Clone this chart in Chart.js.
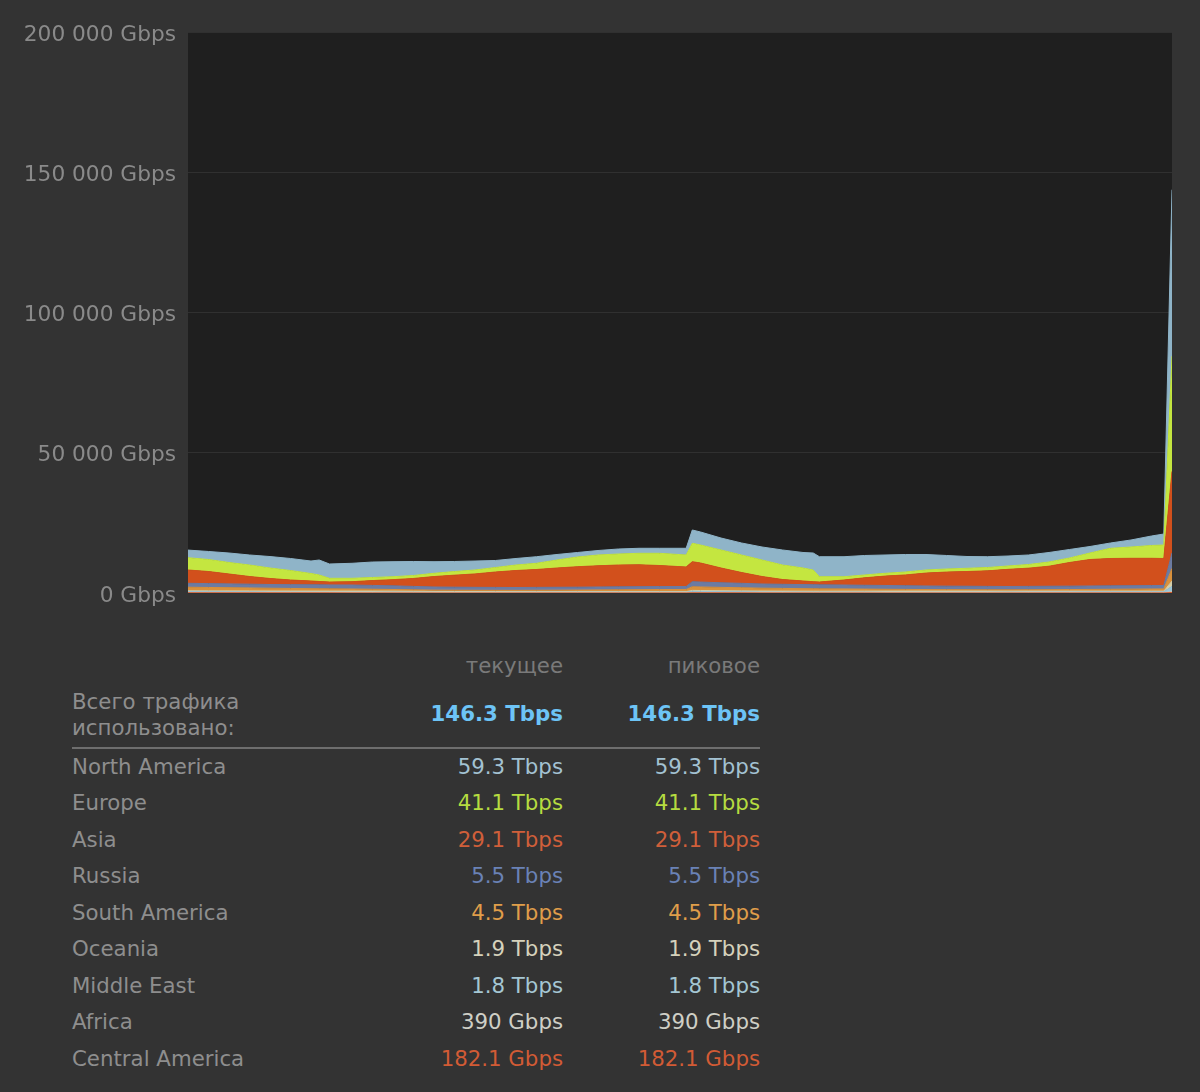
<!DOCTYPE html>
<html>
<head>
<meta charset="utf-8">
<script src="https://cdn.jsdelivr.net/npm/chart.js@4.4.1/dist/chart.umd.min.js"></script>
<style>
    body { margin: 0; background: #333333; width: 1200px; height: 1092px; overflow: hidden; font-family: "DejaVu Sans", sans-serif; }
    #wrap { position: absolute; left: 0; top: 0; width: 1200px; height: 620px; }
    .t { position: absolute; font-size: 21.3px; line-height: 26px; white-space: nowrap; }
    .r { text-align: right; width: 220px; }
</style>
</head>
<body>
<div id="wrap"><canvas id="trafficChart"></canvas></div>
<div id="stats"></div>
<script>
// time axis, hours over the 48h window
const hours = [0, 1, 2, 3, 4, 5, 6, 6.4, 6.9, 8, 9, 10, 11, 12, 13, 14, 15, 16, 17, 18, 19, 20, 21, 22, 23, 24.3, 24.6,
    25, 26, 27, 28, 29, 30, 30.5, 30.8, 32, 33, 34, 35, 36, 37, 38, 39, 40, 41, 42, 43, 44, 45, 46, 47, 47.6, 48];

// traffic per region, Gbps
const northAmerica = [2720, 2860, 3390, 3570, 4090, 4280, 4450, 5340, 5100, 5350, 5520, 5350, 4990, 4140, 3570, 3200, 2500, 2320, 2350, 1970, 1610, 1600, 1790, 1790, 1790, 2390, 4740,
    4640, 4270, 4280, 4640, 5350, 5530, 6060, 7130, 7130, 6950, 6530, 6240, 5530, 4810, 4200, 3850, 3560, 3390, 3390, 3030, 2320, 1890, 2500, 3390, 3920, 59300];
const europe = [4380, 4280, 4100, 4100, 3740, 3390, 2670, 2320, 1320, 1210, 1100, 1050, 1050, 1150, 1300, 1400, 1600, 1960, 2210, 2850, 3450, 3850, 3920, 4100, 4350, 4280, 6560,
    6410, 6420, 6240, 5880, 5170, 4630, 4170, 1890, 1180, 1000, 1000, 1050, 1100, 1100, 1150, 1200, 1200, 1300, 1500, 1610, 2320, 3640, 4030, 4560, 4810, 41100];
const asia = [4740, 4310, 3520, 2730, 2140, 1650, 1360, 1200, 1040, 1180, 1730, 2210, 2840, 3730, 4280, 4780, 5500, 6060, 6380, 6870, 7300, 7560, 7780, 7800, 7510, 6950, 7130,
    6800, 5260, 3860, 2670, 1710, 1280, 1080, 1020, 1780, 2660, 3340, 3850, 4600, 5010, 5250, 5530, 6110, 6500, 7140, 8420, 9440, 9750, 9770, 9720, 9630, 29100];
const russia = [1400, 1380, 1360, 1350, 1330, 1360, 1380, 1390, 1400, 1420, 1360, 1300, 1220, 1120, 1090, 1060, 1040, 1020, 1030, 1040, 1040, 1050, 1060, 1060, 1060, 1050, 1800,
    1750, 1650, 1580, 1490, 1470, 1450, 1440, 1420, 1400, 1370, 1350, 1310, 1270, 1250, 1240, 1220, 1200, 1210, 1220, 1220, 1220, 1220, 1220, 1220, 1220, 5500];
const southAmerica = [1250, 1200, 1140, 1070, 990, 920, 850, 820, 790, 740, 660, 590, 520, 460, 450, 440, 440, 440, 470, 500, 540, 590, 640, 690, 730, 770, 1300,
    1260, 1180, 1110, 1020, 960, 900, 870, 850, 800, 730, 660, 600, 550, 520, 490, 470, 460, 480, 520, 560, 610, 660, 710, 760, 780, 4500];
const oceania = [300, 290, 290, 300, 310, 330, 350, 360, 370, 380, 380, 370, 340, 310, 290, 270, 250, 230, 220, 210, 200, 200, 200, 200, 200, 200, 350,
    340, 320, 310, 300, 310, 320, 325, 325, 350, 370, 390, 400, 400, 390, 370, 350, 330, 310, 290, 270, 260, 250, 240, 240, 240, 1900];
const middleEast = [330, 310, 300, 280, 260, 240, 220, 215, 210, 210, 210, 210, 200, 190, 190, 190, 195, 200, 205, 210, 215, 215, 210, 210, 205, 205, 400,
    380, 350, 320, 290, 270, 250, 240, 235, 230, 225, 220, 220, 220, 230, 245, 255, 265, 285, 300, 315, 320, 325, 330, 330, 330, 1800];
const africa = [100, 95, 90, 85, 80, 75, 70, 68, 65, 60, 55, 50, 45, 40, 40, 40, 45, 48, 50, 52, 55, 55, 58, 58, 60, 60, 110,
    105, 90, 80, 70, 55, 50, 48, 45, 45, 40, 38, 38, 38, 40, 45, 45, 45, 50, 52, 55, 58, 60, 62, 62, 62, 390];
const centralAmerica = [80, 75, 70, 65, 60, 55, 50, 47, 45, 40, 35, 30, 25, 20, 20, 20, 20, 22, 25, 28, 30, 30, 32, 32, 35, 35, 70,
    65, 60, 50, 40, 35, 30, 27, 25, 25, 25, 22, 22, 22, 20, 20, 20, 20, 25, 28, 30, 32, 35, 38, 38, 38, 182];

const yTicks = [0, 50000, 100000, 150000, 200000];

// table under the chart
const regionNames = ['North America', 'Europe', 'Asia', 'Russia', 'South America', 'Oceania', 'Middle East', 'Africa', 'Central America'];
const currentValues = ['59.3 Tbps', '41.1 Tbps', '29.1 Tbps', '5.5 Tbps', '4.5 Tbps', '1.9 Tbps', '1.8 Tbps', '390 Gbps', '182.1 Gbps'];
const peakValues = ['59.3 Tbps', '41.1 Tbps', '29.1 Tbps', '5.5 Tbps', '4.5 Tbps', '1.9 Tbps', '1.8 Tbps', '390 Gbps', '182.1 Gbps'];
const textColors = ['#a3c2d2', '#b6dc40', '#d05f3a', '#6a82b6', '#e09e4a', '#d6d2bc', '#a5c7d4', '#cfcfc6', '#d25b35'];
const totalCurrent = '146.3 Tbps';
const totalPeak = '146.3 Tbps';

// area fills, bottom of stack first
const stackOrder = [
    { label: 'Central America', data: centralAmerica, color: '#d0582c' },
    { label: 'Africa', data: africa, color: '#c6c6ba' },
    { label: 'Middle East', data: middleEast, color: '#9cc4d6' },
    { label: 'Oceania', data: oceania, color: '#d6cfa8' },
    { label: 'South America', data: southAmerica, color: '#d9913c' },
    { label: 'Russia', data: russia, color: '#6c7ba2' },
    { label: 'Asia', data: asia, color: '#d2501c' },
    { label: 'Europe', data: europe, color: '#c4e640' },
    { label: 'North America', data: northAmerica, color: '#8fb4c8' }
];

function formatGbps(v) {
    return String(v).replace(/\B(?=(\d{3})+(?!\d))/g, ' ') + ' Gbps';
}

const plotBackground = {
    id: 'plotBackground',
    beforeDraw(chart) {
        const { ctx, chartArea } = chart;
        ctx.save();
        ctx.fillStyle = '#1f1f1f';
        ctx.fillRect(chartArea.left, chartArea.top, chartArea.right - chartArea.left, chartArea.bottom - chartArea.top);
        ctx.restore();
    }
};

new Chart(document.getElementById('trafficChart'), {
    type: 'line',
    data: {
        datasets: stackOrder.map((s, i) => ({
            label: s.label,
            data: s.data.map((v, j) => ({ x: hours[j], y: v })),
            backgroundColor: s.color,
            borderColor: s.color,
            borderWidth: 1,
            pointRadius: 0,
            tension: 0,
            fill: i === 0 ? 'origin' : '-1'
        }))
    },
    options: {
        responsive: true,
        maintainAspectRatio: false,
        animation: false,
        layout: { padding: { top: 32, right: 28, bottom: 27, left: 0 } },
        plugins: { legend: { display: false }, tooltip: { enabled: false } },
        scales: {
            x: { type: 'linear', min: 0, max: 48, display: false },
            y: {
                stacked: true,
                min: 0,
                max: 200000,
                afterBuildTicks: (scale) => { scale.ticks = yTicks.map(v => ({ value: v })); },
                afterFit: (scale) => { scale.width = 188; },
                border: { display: false },
                grid: { color: '#303030', drawTicks: false },
                ticks: {
                    padding: 12,
                    labelOffset: 3,
                    color: '#8a8a8a',
                    font: { family: 'DejaVu Sans', size: 21.7 },
                    callback: (v) => formatGbps(v)
                }
            }
        }
    },
    plugins: [plotBackground]
});

// build the stats table
const stats = document.getElementById('stats');
function addText(text, left, centerY, color, opts = {}) {
    const d = document.createElement('div');
    d.className = 't' + (opts.right ? ' r' : '');
    d.textContent = text;
    d.style.top = (centerY - 13) + 'px';
    d.style.left = (opts.right ? left - 220 : left) + 'px';
    d.style.color = color;
    if (opts.bold) d.style.fontWeight = 'bold';
    stats.appendChild(d);
}

addText('текущее', 563, 666, '#7a7a7a', { right: true });
addText('пиковое', 760, 666, '#7a7a7a', { right: true });
addText('Всего трафика', 72, 702, '#8e8e8e');
addText('использовано:', 72, 728, '#8e8e8e');
addText(totalCurrent, 563, 714, '#6dc4f6', { right: true, bold: true });
addText(totalPeak, 760, 714, '#6dc4f6', { right: true, bold: true });

const sep = document.createElement('div');
sep.style.cssText = 'position:absolute;left:72px;top:747px;width:688px;height:2px;background:#6e6e6e;';
stats.appendChild(sep);

regionNames.forEach((name, i) => {
    const cy = 766.5 + i * 36.5;
    addText(name, 72, cy, '#8e8e8e');
    addText(currentValues[i], 563, cy, textColors[i], { right: true });
    addText(peakValues[i], 760, cy, textColors[i], { right: true });
});
</script>
</body>
</html>
